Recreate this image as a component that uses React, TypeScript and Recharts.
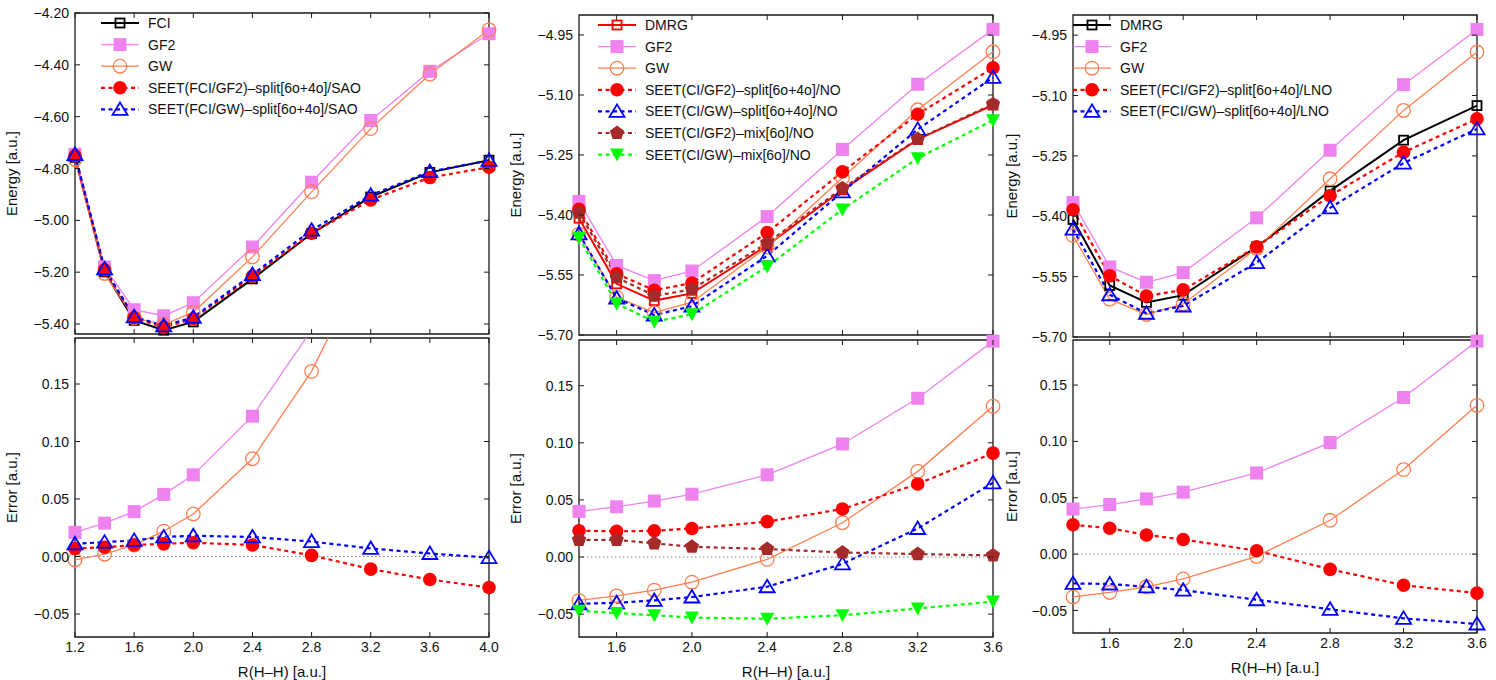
import React from "react";
import { Legend, Line, LineChart, ReferenceArea, ReferenceLine, XAxis, YAxis } from "recharts";

const FONT = '"Liberation Sans", Arial, Helvetica, sans-serif';
const FRAME = "#1a1a1a";
const INK = "#111";

// --- bond lengths ---------------------------------------------------------
const R_SAO = [1.2, 1.4, 1.6, 1.8, 2.0, 2.4, 2.8, 3.2, 3.6, 4.0];
const R_NO = [1.4, 1.6, 1.8, 2.0, 2.4, 2.8, 3.2, 3.6];

// --- SAO panel: total energies ---------------------------------------------
const E_FCI_SAO = [-4.757, -5.199, -5.386, -5.424, -5.392, -5.226, -5.051, -4.91, -4.815, -4.768];
const E_GF2_SAO = [-4.745, -5.18, -5.345, -5.368, -5.318, -5.103, -4.853, -4.615, -4.425, -4.28];
const E_GW_SAO = [-4.765, -5.205, -5.376, -5.402, -5.355, -5.141, -4.89, -4.646, -4.436, -4.265];
const E_SEET_GF2_SAO = [-4.751, -5.191, -5.376, -5.413, -5.38, -5.216, -5.05, -4.921, -4.835, -4.795];
const E_SEET_GW_SAO = [-4.746, -5.187, -5.372, -5.407, -5.374, -5.209, -5.038, -4.903, -4.812, -4.769];

// --- SAO panel: errors vs FCI ------------------------------------------------
const ERR_GF2_SAO = [0.021, 0.029, 0.039, 0.054, 0.071, 0.122, 0.197, 0.292, 0.39, 0.488];
const ERR_GW_SAO = [-0.003, 0.002, 0.01, 0.022, 0.037, 0.085, 0.161, 0.265, 0.379, 0.503];
const ERR_SEET_GF2_SAO = [0.007, 0.008, 0.01, 0.011, 0.012, 0.01, 0.001, -0.011, -0.02, -0.027];
const ERR_SEET_GW_SAO = [0.011, 0.0125, 0.014, 0.017, 0.018, 0.017, 0.013, 0.007, 0.0026, -0.001];

// --- NO / LNO panels: total energies -----------------------------------------
const E_DMRG = [-5.408, -5.572, -5.614, -5.596, -5.476, -5.337, -5.211, -5.125];
const E_GF2 = [-5.366, -5.526, -5.564, -5.54, -5.404, -5.236, -5.073, -4.936];
const E_GW = [-5.448, -5.606, -5.644, -5.618, -5.48, -5.307, -5.137, -4.992];
const E_SEET_GF2_NO = [-5.386, -5.547, -5.588, -5.57, -5.444, -5.292, -5.148, -5.032];
const E_SEET_GW_NO = [-5.447, -5.608, -5.65, -5.628, -5.502, -5.342, -5.186, -5.056];
const E_MIX_GF2_NO = [-5.394, -5.556, -5.602, -5.586, -5.47, -5.333, -5.21, -5.123];
const E_MIX_GW_NO = [-5.457, -5.621, -5.667, -5.648, -5.529, -5.386, -5.258, -5.163];
const E_SEET_GF2_LNO = [-5.384, -5.548, -5.598, -5.583, -5.476, -5.349, -5.241, -5.158];
const E_SEET_GW_LNO = [-5.432, -5.595, -5.641, -5.623, -5.515, -5.379, -5.268, -5.183];

// --- NO / LNO panels: errors vs DMRG -----------------------------------------
const ERR_GF2 = [0.04, 0.044, 0.049, 0.055, 0.072, 0.099, 0.139, 0.189];
const ERR_GW = [-0.038, -0.034, -0.029, -0.022, -0.002, 0.03, 0.075, 0.132];
const ERR_SEET_GF2_NO = [0.023, 0.0225, 0.023, 0.025, 0.031, 0.042, 0.064, 0.091];
const ERR_SEET_GW_NO = [-0.041, -0.04, -0.038, -0.035, -0.026, -0.006, 0.025, 0.065];
const ERR_MIX_GF2_NO = [0.015, 0.015, 0.012, 0.009, 0.007, 0.004, 0.0026, 0.0014];
const ERR_MIX_GW_NO = [-0.047, -0.049, -0.051, -0.053, -0.054, -0.051, -0.045, -0.039];
const ERR_SEET_GF2_LNO = [0.026, 0.023, 0.017, 0.013, 0.003, -0.0135, -0.0276, -0.0346];
const ERR_SEET_GW_LNO = [-0.026, -0.0265, -0.029, -0.032, -0.0405, -0.049, -0.057, -0.062];

// --- axis ticks ----------------------------------------------------------------
const X_TICKS_SAO = [1.2, 1.6, 2.0, 2.4, 2.8, 3.2, 3.6, 4.0];
const X_TICKS_NO = [1.6, 2.0, 2.4, 2.8, 3.2, 3.6];
const Y_TICKS_E_SAO = [-5.4, -5.2, -5.0, -4.8, -4.6, -4.4, -4.2];
const Y_TICKS_E_NO = [-5.7, -5.55, -5.4, -5.25, -5.1, -4.95];
const Y_TICKS_ERR = [-0.05, 0.0, 0.05, 0.1, 0.15];

type MarkerKind = "openSquare" | "square" | "openCircle" | "circle" | "openTriangle" | "pentagon" | "downTriangle";

interface SeriesStyle {
  name: string;
  color: string;
  width: number;
  dash?: string;
  marker: MarkerKind;
}

interface Series {
  style: SeriesStyle;
  values: number[];
}

const DASH = "4 3.5";
const GF2: SeriesStyle = { name: "GF2", color: "#EE82EE", width: 1.3, marker: "square" };
const GW: SeriesStyle = { name: "GW", color: "#FF7F50", width: 1.3, marker: "openCircle" };

function markerShape(kind: MarkerKind, color: string, cx: number, cy: number, key?: string) {
  switch (kind) {
    case "openSquare":
      return <rect key={key} x={cx - 4.5} y={cy - 4.5} width={9} height={9} fill="none" stroke={color} strokeWidth={1.8} />;
    case "square":
      return <rect key={key} x={cx - 6.5} y={cy - 6.5} width={13} height={13} fill={color} />;
    case "openCircle":
      return <circle key={key} cx={cx} cy={cy} r={6.8} fill="none" stroke={color} strokeWidth={1.3} />;
    case "circle":
      return <circle key={key} cx={cx} cy={cy} r={6.8} fill={color} />;
    case "openTriangle":
      return (
        <polygon
          key={key}
          points={`${cx},${cy - 7} ${cx + 7.5},${cy + 5.5} ${cx - 7.5},${cy + 5.5}`}
          fill="none"
          stroke={color}
          strokeWidth={1.8}
        />
      );
    case "downTriangle":
      return <polygon key={key} points={`${cx - 7},${cy - 6} ${cx + 7},${cy - 6} ${cx},${cy + 7}`} fill={color} />;
    case "pentagon": {
      const pts = [0, 1, 2, 3, 4]
        .map((k) => {
          const a = -Math.PI / 2 + (k * 2 * Math.PI) / 5;
          return `${cx + 7.5 * Math.cos(a)},${cy + 7.5 * Math.sin(a)}`;
        })
        .join(" ");
      return <polygon key={key} points={pts} fill={color} />;
    }
  }
}

function LegendBox({ items }: { items: SeriesStyle[] }) {
  const rowH = 21.6;
  return (
    <svg width={400} height={items.length * rowH + 12} style={{ display: "block", overflow: "visible" }}>
      {items.map((s, i) => {
        const y = 10 + i * rowH;
        return (
          <g key={s.name}>
            <line x1={0} x2={38} y1={y} y2={y} stroke={s.color} strokeWidth={s.width} strokeDasharray={s.dash} />
            {markerShape(s.marker, s.color, 19, y)}
            <text x={47} y={y + 5} fontSize={14} fill={INK} fontFamily={FONT}>
              {s.name}
            </text>
          </g>
        );
      })}
    </svg>
  );
}

interface PanelProps {
  id: string;
  left: number;
  top: number;
  width: number;
  height: number;
  xs: number[];
  series: Series[];
  xDomain: [number, number];
  xTicks: number[];
  yDomain: [number, number];
  yTicks: number[];
  yLabel: string;
  yLabelX: number;
  xLabel?: string;
  zeroLine?: boolean;
  legend?: { left: number; top: number };
}

const fmtY = (v: number) => v.toFixed(2).replace("-", "\u2212");
const fmtX = (v: number) => v.toFixed(1);

const TICK_LEN = 5;
const Y_AXIS_W = 70;
const M_LEFT = 10;

// One framed panel. The frame is a ReferenceArea over the full domain; the
// custom ticks draw inward marks on both opposite edges plus the labels.
function Panel(p: PanelProps) {
  const showX = !!p.xLabel;
  const xAxisH = showX ? 44 : 1;
  const margin = { top: 10, right: 14, bottom: showX ? 3 : 10, left: M_LEFT };
  const chartW = M_LEFT + Y_AXIS_W + p.width + margin.right;
  const chartH = margin.top + p.height + xAxisH + margin.bottom;
  const chartLeft = p.left - Y_AXIS_W - M_LEFT;
  const chartTop = p.top - margin.top;

  const plotLeft = M_LEFT + Y_AXIS_W;
  const plotRight = plotLeft + p.width;
  const plotTop = margin.top;
  const plotBottom = margin.top + p.height;
  const [y0, y1] = p.yDomain;

  const data = p.xs.map((x, i) => {
    const row: Record<string, number | null> = { x };
    p.series.forEach((s, j) => {
      const v = s.values[i];
      row[`v${j}`] = v;
      row[`m${j}`] = v >= y0 && v <= y1 ? v : null;
    });
    return row;
  });

  const renderXTick = (t: any) => (
    <g>
      <line x1={t.x} x2={t.x} y1={plotBottom - TICK_LEN} y2={plotBottom} stroke={FRAME} strokeWidth={1} />
      <line x1={t.x} x2={t.x} y1={plotTop} y2={plotTop + TICK_LEN} stroke={FRAME} strokeWidth={1} />
      {showX && (
        <text x={t.x} y={plotBottom + 15} textAnchor="middle" fontSize={14} fill={INK}>
          {fmtX(t.payload.value)}
        </text>
      )}
    </g>
  );

  const renderYTick = (t: any) => (
    <g>
      <line x1={plotLeft} x2={plotLeft + TICK_LEN} y1={t.y} y2={t.y} stroke={FRAME} strokeWidth={1} />
      <line x1={plotRight - TICK_LEN} x2={plotRight} y1={t.y} y2={t.y} stroke={FRAME} strokeWidth={1} />
      <text x={plotLeft - 6} y={t.y} dy="0.36em" textAnchor="end" fontSize={14} fill={INK}>
        {fmtY(t.payload.value)}
      </text>
    </g>
  );

  // axis titles: baseline sits 5px right of the wanted centre line once rotated
  const yTitleX = p.yLabelX - chartLeft + 5;
  const yTitleY = (plotTop + plotBottom) / 2;
  const renderYTitle = () => (
    <text
      x={yTitleX}
      y={yTitleY}
      transform={`rotate(-90, ${yTitleX}, ${yTitleY})`}
      textAnchor="middle"
      fontSize={15}
      fill={INK}
    >
      {p.yLabel}
    </text>
  );
  const renderXTitle = () => (
    <text x={(plotLeft + plotRight) / 2} y={plotBottom + 40} textAnchor="middle" fontSize={15} fill={INK}>
      {p.xLabel}
    </text>
  );

  return (
    <div style={{ position: "absolute", left: chartLeft, top: chartTop }}>
      <LineChart width={chartW} height={chartH} data={data} margin={margin}>
        <XAxis
          dataKey="x"
          type="number"
          domain={p.xDomain}
          ticks={p.xTicks}
          interval={0}
          height={xAxisH}
          tick={renderXTick}
          tickLine={false}
          axisLine={false}
          label={showX ? { content: renderXTitle } : undefined}
        />
        <YAxis
          yAxisId="left"
          type="number"
          domain={p.yDomain}
          ticks={p.yTicks}
          interval={0}
          width={Y_AXIS_W}
          tick={renderYTick}
          tickLine={false}
          axisLine={false}
          label={{ content: renderYTitle }}
        />
        <YAxis yAxisId="clip" orientation="right" type="number" domain={p.yDomain} allowDataOverflow hide />

        <ReferenceArea
          yAxisId="left"
          x1={p.xDomain[0]}
          x2={p.xDomain[1]}
          y1={y0}
          y2={y1}
          fill="none"
          fillOpacity={0}
          stroke={FRAME}
          strokeWidth={1.3}
          ifOverflow="visible"
        />
        {p.zeroLine && <ReferenceLine yAxisId="left" y={0} stroke="#888" strokeWidth={1} strokeDasharray="1.5 2.5" />}

        {p.series.flatMap((s, j) => [
          <Line
            key={`p${j}`}
            yAxisId="clip"
            type="linear"
            dataKey={`v${j}`}
            stroke={s.style.color}
            strokeWidth={s.style.width}
            strokeDasharray={s.style.dash}
            dot={false}
            activeDot={false}
            legendType="none"
            isAnimationActive={false}
          />,
          <Line
            key={`m${j}`}
            yAxisId="left"
            type="linear"
            dataKey={`m${j}`}
            stroke="none"
            activeDot={false}
            legendType="none"
            isAnimationActive={false}
            dot={(d: any) =>
              d.cy == null || d.value == null ? (
                <g key={`e${j}-${d.index}`} />
              ) : (
                markerShape(s.style.marker, s.style.color, d.cx, d.cy, `d${j}-${d.index}`)!
              )
            }
          />,
        ])}

        {p.legend && (
          <Legend
            layout="vertical"
            align="center"
            verticalAlign="middle"
            wrapperStyle={{ left: p.legend.left - chartLeft, top: p.legend.top - chartTop, width: 400, height: 170 }}
            content={() => <LegendBox items={p.series.map((s) => s.style)} />}
          />
        )}
      </LineChart>
    </div>
  );
}

const SAO_STYLES = {
  ref: { name: "FCI", color: "#000000", width: 2, marker: "openSquare" } as SeriesStyle,
  seetGF2: { name: "SEET(FCI/GF2)\u2013split[6o+4o]/SAO", color: "#FF0000", width: 2.2, dash: DASH, marker: "circle" } as SeriesStyle,
  seetGW: { name: "SEET(FCI/GW)\u2013split[6o+4o]/SAO", color: "#0000FF", width: 2.2, dash: DASH, marker: "openTriangle" } as SeriesStyle,
};

const NO_STYLES = {
  ref: { name: "DMRG", color: "#FF0000", width: 2, marker: "openSquare" } as SeriesStyle,
  seetGF2: { name: "SEET(CI/GF2)\u2013split[6o+4o]/NO", color: "#FF0000", width: 2.2, dash: DASH, marker: "circle" } as SeriesStyle,
  seetGW: { name: "SEET(CI/GW)\u2013split[6o+4o]/NO", color: "#0000FF", width: 2.2, dash: DASH, marker: "openTriangle" } as SeriesStyle,
  mixGF2: { name: "SEET(CI/GF2)\u2013mix[6o]/NO", color: "#A52A2A", width: 2.2, dash: DASH, marker: "pentagon" } as SeriesStyle,
  mixGW: { name: "SEET(CI/GW)\u2013mix[6o]/NO", color: "#00FF00", width: 2.2, dash: DASH, marker: "downTriangle" } as SeriesStyle,
};

const LNO_STYLES = {
  ref: { name: "DMRG", color: "#000000", width: 2, marker: "openSquare" } as SeriesStyle,
  seetGF2: { name: "SEET(FCI/GF2)\u2013split[6o+4o]/LNO", color: "#FF0000", width: 2.2, dash: DASH, marker: "circle" } as SeriesStyle,
  seetGW: { name: "SEET(FCI/GW)\u2013split[6o+4o]/LNO", color: "#0000FF", width: 2.2, dash: DASH, marker: "openTriangle" } as SeriesStyle,
};

const X_LABEL = "R(H\u2013H) [a.u.]";

const PANELS: PanelProps[] = [
  {
    id: "sao-e",
    left: 75,
    top: 13,
    width: 414,
    height: 321,
    xs: R_SAO,
    xDomain: [1.2, 4.0],
    xTicks: X_TICKS_SAO,
    yDomain: [-5.4386, -4.2],
    yTicks: Y_TICKS_E_SAO,
    yLabel: "Energy [a.u.]",
    yLabelX: 12,
    legend: { left: 101, top: 13.3 },
    series: [
      { style: SAO_STYLES.ref, values: E_FCI_SAO },
      { style: GF2, values: E_GF2_SAO },
      { style: GW, values: E_GW_SAO },
      { style: SAO_STYLES.seetGF2, values: E_SEET_GF2_SAO },
      { style: SAO_STYLES.seetGW, values: E_SEET_GW_SAO },
    ],
  },
  {
    id: "no-e",
    left: 579,
    top: 15,
    width: 414,
    height: 320,
    xs: R_NO,
    xDomain: [1.4, 3.6],
    xTicks: X_TICKS_NO,
    yDomain: [-5.7, -4.9],
    yTicks: Y_TICKS_E_NO,
    yLabel: "Energy [a.u.]",
    yLabelX: 516,
    legend: { left: 598, top: 15 },
    series: [
      { style: NO_STYLES.ref, values: E_DMRG },
      { style: GF2, values: E_GF2 },
      { style: GW, values: E_GW },
      { style: NO_STYLES.seetGF2, values: E_SEET_GF2_NO },
      { style: NO_STYLES.seetGW, values: E_SEET_GW_NO },
      { style: NO_STYLES.mixGF2, values: E_MIX_GF2_NO },
      { style: NO_STYLES.mixGW, values: E_MIX_GW_NO },
    ],
  },
  {
    id: "lno-e",
    left: 1073,
    top: 15,
    width: 404,
    height: 322,
    xs: R_NO,
    xDomain: [1.4, 3.6],
    xTicks: X_TICKS_NO,
    yDomain: [-5.7, -4.9],
    yTicks: Y_TICKS_E_NO,
    yLabel: "Energy [a.u.]",
    yLabelX: 1011.5,
    legend: { left: 1073, top: 15 },
    series: [
      { style: LNO_STYLES.ref, values: E_DMRG },
      { style: GF2, values: E_GF2 },
      { style: GW, values: E_GW },
      { style: LNO_STYLES.seetGF2, values: E_SEET_GF2_LNO },
      { style: LNO_STYLES.seetGW, values: E_SEET_GW_LNO },
    ],
  },
  {
    id: "sao-err",
    left: 75,
    top: 338,
    width: 414,
    height: 299,
    xs: R_SAO,
    xDomain: [1.2, 4.0],
    xTicks: X_TICKS_SAO,
    yDomain: [-0.07, 0.19],
    yTicks: Y_TICKS_ERR,
    yLabel: "Error [a.u.]",
    yLabelX: 12,
    xLabel: X_LABEL,
    zeroLine: true,
    series: [
      { style: GF2, values: ERR_GF2_SAO },
      { style: GW, values: ERR_GW_SAO },
      { style: SAO_STYLES.seetGF2, values: ERR_SEET_GF2_SAO },
      { style: SAO_STYLES.seetGW, values: ERR_SEET_GW_SAO },
    ],
  },
  {
    id: "no-err",
    left: 579,
    top: 340,
    width: 414,
    height: 297,
    xs: R_NO,
    xDomain: [1.4, 3.6],
    xTicks: X_TICKS_NO,
    yDomain: [-0.07, 0.19],
    yTicks: Y_TICKS_ERR,
    yLabel: "Error [a.u.]",
    yLabelX: 516,
    xLabel: X_LABEL,
    zeroLine: true,
    series: [
      { style: GF2, values: ERR_GF2 },
      { style: GW, values: ERR_GW },
      { style: NO_STYLES.seetGF2, values: ERR_SEET_GF2_NO },
      { style: NO_STYLES.seetGW, values: ERR_SEET_GW_NO },
      { style: NO_STYLES.mixGF2, values: ERR_MIX_GF2_NO },
      { style: NO_STYLES.mixGW, values: ERR_MIX_GW_NO },
    ],
  },
  {
    id: "lno-err",
    left: 1073,
    top: 340,
    width: 404,
    height: 293,
    xs: R_NO,
    xDomain: [1.4, 3.6],
    xTicks: X_TICKS_NO,
    yDomain: [-0.07, 0.19],
    yTicks: Y_TICKS_ERR,
    yLabel: "Error [a.u.]",
    yLabelX: 1011.5,
    xLabel: X_LABEL,
    zeroLine: true,
    series: [
      { style: GF2, values: ERR_GF2 },
      { style: GW, values: ERR_GW },
      { style: LNO_STYLES.seetGF2, values: ERR_SEET_GF2_LNO },
      { style: LNO_STYLES.seetGW, values: ERR_SEET_GW_LNO },
    ],
  },
];

export default function App() {
  return (
    <div
      style={{
        position: "absolute",
        left: 0,
        top: 0,
        width: 1496,
        height: 680,
        overflow: "hidden",
        background: "#fff",
        fontFamily: FONT,
      }}
    >
      {PANELS.map((p) => (
        <Panel key={p.id} {...p} />
      ))}
    </div>
  );
}
